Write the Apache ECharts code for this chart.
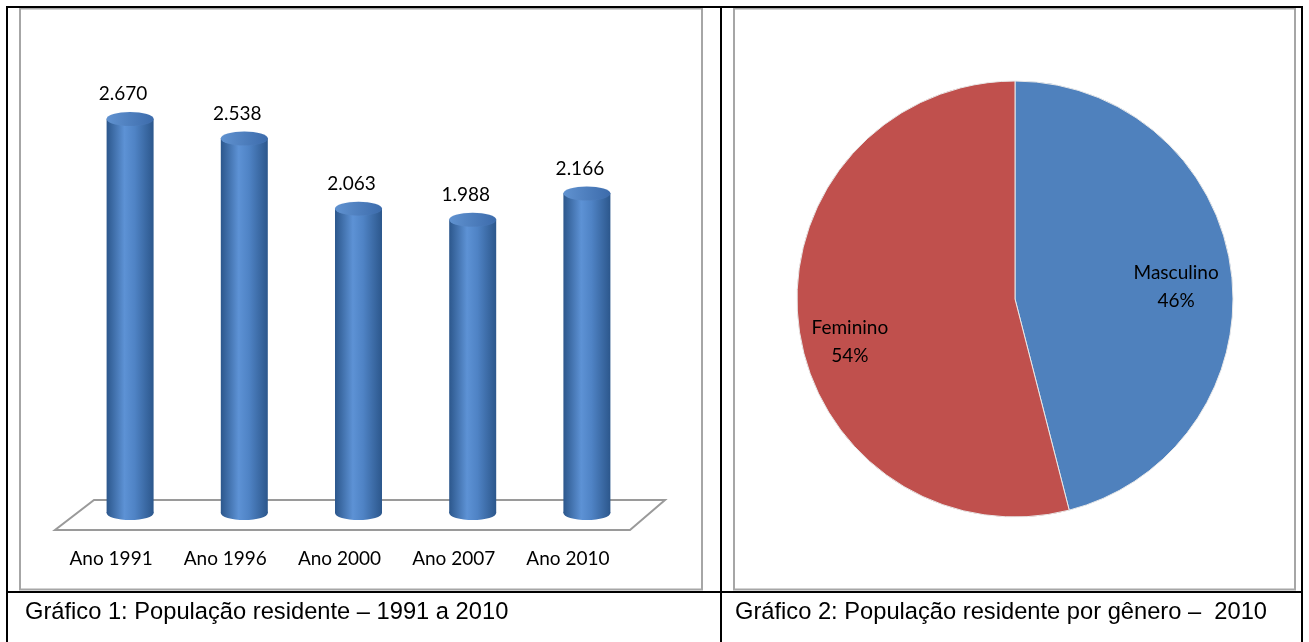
<!DOCTYPE html>
<html>
<head>
<meta charset="utf-8">
<script src="https://cdn.jsdelivr.net/npm/echarts@6/dist/echarts.min.js"></script>
<style>
  html, body { margin: 0; padding: 0; background: #fff; }
  #main { width: 1309px; height: 642px; }
</style>
</head>
<body>
<div id="main"></div>
<script>
// dados do grafico 1
const anos = ["Ano 1991", "Ano 1996", "Ano 2000", "Ano 2007", "Ano 2010"];
const populacao = [2670, 2538, 2063, 1988, 2166];

// dados do grafico 2
const generos = ["Masculino", "Feminino"];
const percentuais = [46, 54];
const coresGenero = ["#4f81bd", "#c0504d"];

const legendas = [
  "Gráfico 1: População residente – 1991 a 2010",
  "Gráfico 2: População residente por gênero –  2010"
];

const fonteCalibri = "Lato, 'Open Sans', sans-serif";
const fonteArial = "'Liberation Sans', Arial, sans-serif";

const corpo = new echarts.graphic.LinearGradient(0, 0, 1, 0, [
  { offset: 0, color: "#2c578c" },
  { offset: 0.38, color: "#5d92d5" },
  { offset: 0.6, color: "#4f83c5" },
  { offset: 1, color: "#2c578c" }
]);
const tampa = new echarts.graphic.LinearGradient(0, 0, 1, 0, [
  { offset: 0, color: "#6092d0" },
  { offset: 1, color: "#3c6bab" }
]);

const chart = echarts.init(document.getElementById("main"));

const gray = "#a6a6a6";
chart.setOption({
  animation: false,
  title: [
    { text: legendas[0], left: 20, top: 595,
      textStyle: { fontFamily: fonteArial, fontSize: 23.7, fontWeight: "normal", color: "#000" } },
    { text: legendas[1], left: 730, top: 595,
      textStyle: { fontFamily: fonteArial, fontSize: 23.7, fontWeight: "normal", color: "#000" } }
  ],
  graphic: [
    // molduras dos graficos
    { type: "rect", shape: { x: 20, y: 8.5, width: 682, height: 581 },
      style: { fill: null, stroke: gray, lineWidth: 2 }, z: 0 },
    { type: "rect", shape: { x: 734, y: 8.5, width: 561, height: 581 },
      style: { fill: null, stroke: gray, lineWidth: 2 }, z: 0 },
    // linhas da tabela
    { type: "polyline", shape: { points: [[7, 642], [7, 7], [1302, 7], [1302, 642]] },
      style: { fill: null, stroke: "#000", lineWidth: 2 }, z: 5 },
    { type: "line", shape: { x1: 721, y1: 7, x2: 721, y2: 642 },
      style: { stroke: "#000", lineWidth: 2 }, z: 5 },
    { type: "line", shape: { x1: 7, y1: 592, x2: 1302, y2: 592 },
      style: { stroke: "#000", lineWidth: 2 }, z: 5 },
    // piso do grafico 3D
    { type: "polygon", shape: { points: [[55, 530], [630, 530], [665, 500], [94, 500]] },
      style: { fill: "#fff", stroke: "#9a9a9a", lineWidth: 2 }, z: 0 }
  ],
  grid: { left: 73, right: 665, top: 70, bottom: 129 },
  xAxis: {
    type: "category",
    data: anos,
    axisLine: { show: false },
    axisTick: { show: false },
    axisLabel: {
      margin: 36,
      padding: [0, 38, 0, 0],
      fontFamily: fonteCalibri,
      fontSize: 19,
      color: "#000"
    }
  },
  yAxis: { type: "value", min: 0, max: 3000, show: false, splitLine: { show: false } },
  series: [
    {
      type: "pictorialBar",
      data: populacao,
      symbol: "circle",
      symbolSize: [47, 14],
      symbolPosition: "start",
      symbolOffset: [0, "50%"],
      itemStyle: { color: corpo },
      z: 1
    },
    {
      type: "bar",
      data: populacao,
      barWidth: 47,
      itemStyle: { color: corpo },
      z: 2
    },
    {
      type: "pictorialBar",
      data: populacao,
      symbol: "circle",
      symbolSize: [47, 14],
      symbolPosition: "end",
      symbolOffset: [0, "-50%"],
      itemStyle: { color: tampa, borderColor: "#6f9ad4", borderWidth: 1 },
      label: {
        show: true,
        position: "top",
        distance: 8,
        offset: [-7, 0],
        fontFamily: fonteCalibri,
        fontSize: 19,
        color: "#000",
        formatter: (p) => (p.value / 1000).toFixed(3)
      },
      z: 3
    },
    {
      type: "pie",
      center: [1015, 299],
      radius: 218,
      startAngle: 90,
      clockwise: true,
      data: generos.map((g, i) => ({
        name: g,
        value: percentuais[i],
        itemStyle: { color: coresGenero[i] }
      })),
      itemStyle: { borderColor: "#e8e8e8", borderWidth: 1 },
      label: {
        show: true,
        position: "inside",
        formatter: "{b}\n{c}%",
        fontFamily: fonteCalibri,
        fontSize: 19,
        lineHeight: 28,
        color: "#000"
      },
      labelLayout: (params) =>
        params.dataIndex === 0 ? { dx: 50, dy: 2 } : { dx: -54, dy: 29 },
      labelLine: { show: false },
      emphasis: { disabled: true }
    }
  ]
});
</script>
</body>
</html>
